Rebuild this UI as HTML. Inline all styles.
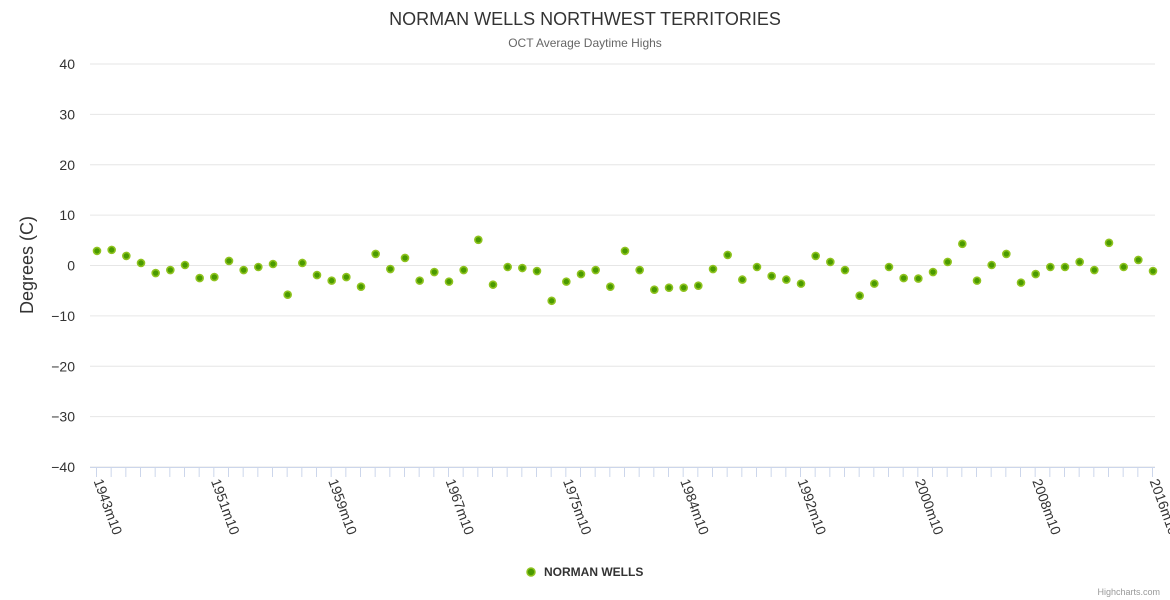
<!DOCTYPE html>
<html><head><meta charset="utf-8"><style>
body{margin:0;background:#fff;}
svg{display:block;font-family:"Liberation Sans",sans-serif;}
</style></head><body>
<svg id="chart" width="1170" height="600">
<text x="585" y="25" text-anchor="middle" font-size="18" fill="#333">NORMAN WELLS NORTHWEST TERRITORIES</text>
<text x="585" y="47" text-anchor="middle" font-size="12" fill="#666">OCT Average Daytime Highs</text>
<text transform="translate(33,265) rotate(-90)" text-anchor="middle" font-size="18" fill="#333">Degrees (C)</text>
<g id="grid"></g><g id="xaxis"></g><g id="pts"></g>
<g>
<circle cx="531" cy="572" r="4" fill="#4a9a00" stroke="#8fc31f" stroke-width="1.5"/>
<text x="544" y="576" font-size="12" font-weight="bold" fill="#333">NORMAN WELLS</text>
</g>
<text x="1160" y="595" text-anchor="end" font-size="9" fill="#999">Highcharts.com</text>
</svg>
<script>
const firstYear = 1943;
const skipYear = 1979;
const values = [2.9,3.1,1.9,0.5,-1.5,-0.9,0.1,-2.5,-2.3,0.9,-0.9,-0.3,0.3,-5.8,0.5,-1.9,-3.0,-2.3,-4.2,2.3,-0.7,1.5,-3.0,-1.3,-3.2,
-0.9,5.1,-3.8,-0.3,-0.5,-1.1,-7.0,-3.2,-1.7,-0.9,-4.2,2.9,-0.9,-4.8,-4.4,-4.4,-4.0,-0.7,2.1,-2.8,-0.3,-2.1,-2.8,-3.6,1.9,
0.7,-0.9,-6.0,-3.6,-0.3,-2.5,-2.6,-1.3,0.7,4.3,-3.0,0.1,2.3,-3.4,-1.7,-0.3,-0.3,0.7,-0.9,4.5,-0.3,1.1,-1.1];
const yTicks = [40,30,20,10,0,-10,-20,-30,-40];
const categories = [];
for (let y = firstYear; categories.length < values.length; y++) { if (y !== skipYear) categories.push(y + 'm10'); }

const NS = 'http://www.w3.org/2000/svg';
const L = 90, R = 1155, T = 64, B = 467;
const step = (1153 - 97) / (values.length - 1);
const xS = i => 97 + i * step;
const yS = v => T + (40 - v) / 80 * (B - T);
function mk(tag, attrs, parent) { const e = document.createElementNS(NS, tag); for (const k in attrs) e.setAttribute(k, attrs[k]); parent.appendChild(e); return e; }

const grid = document.getElementById('grid');
yTicks.forEach(t => {
  const y = yS(t);
  const ln = mk('line', {x1: L, x2: R, y1: y, y2: y, stroke: '#e6e6e6', 'stroke-width': 1}, grid);
  
  
  const tx = mk('text', {x: 75, y: y + 5, 'text-anchor': 'end', 'font-size': 14, fill: '#333'}, grid);
  tx.textContent = String(t).replace('-', '−');
  
  
});

const xa = document.getElementById('xaxis');
const axl = mk('line', {x1: L, x2: R, y1: B + 0.5, y2: B + 0.5, stroke: '#ccd6eb', 'stroke-width': 1}, xa);


categories.forEach((c, i) => {
  const x = xS(i) - 0.5;
  const tk = mk('line', {x1: x, x2: x, y1: B, y2: B + 10, stroke: '#ccd6eb', 'stroke-width': 1}, xa);
  
  
  if (i % 8 === 0) {
    const tx = mk('text', {transform: `translate(${x - 3},${B + 14}) rotate(70)`, 'font-size': 14, fill: '#333'}, xa);
    tx.textContent = c;
    
    
  }
});

const pts = document.getElementById('pts');
values.forEach((v, i) => {
  const c = mk('circle', {cx: xS(i), cy: yS(v), r: 3.5, fill: '#4a9a00', stroke: '#8fc31f', 'stroke-width': 1.6}, pts);
  
  
});
</script>
</body></html>
